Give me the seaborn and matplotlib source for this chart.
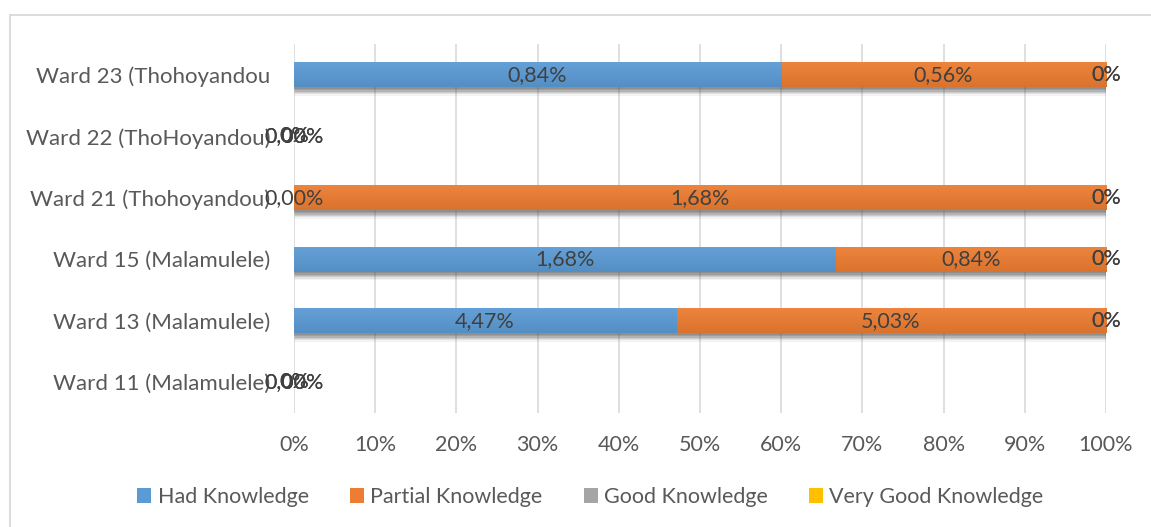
import matplotlib
matplotlib.use("Agg")
import matplotlib.pyplot as plt
import matplotlib.patheffects as pe
from matplotlib.patches import Patch, Rectangle
from matplotlib.colors import to_rgb
import numpy as np
import pandas as pd
import seaborn as sns

# Ward categories (top to bottom) and knowledge shares in percent
wards = [
    "Ward 23 (Thohoyandou",
    "Ward 22 (ThoHoyandou)",
    "Ward 21 (Thohoyandou)",
    "Ward 15 (Malamulele)",
    "Ward 13 (Malamulele)",
    "Ward 11 (Malamulele)",
]
had_knowledge = [0.84, 0.00, 0.00, 1.68, 4.47, 0.00]
partial_knowledge = [0.56, 0.00, 1.68, 0.84, 5.03, 0.00]
good_knowledge = [0, 0, 0, 0, 0, 0]
very_good_knowledge = [0, 0, 0, 0, 0, 0]

series_names = ["Had Knowledge", "Partial Knowledge", "Good Knowledge", "Very Good Knowledge"]
series_values = [had_knowledge, partial_knowledge, good_knowledge, very_good_knowledge]
series_colors = ["#5B9BD5", "#ED7D31", "#A5A5A5", "#FFC000"]
label_formats = ["{:.2f}%", "{:.2f}%", "{:.0f}%", "{:.0f}%"]

TEXT = "#595959"
LABEL = "#404040"
FONT = ["Lato", "DejaVu Sans"]

sns.set_theme(style="white")
plt.rcParams["font.family"] = FONT

vals = np.array(series_values, dtype=float)          # (series, wards)
totals = vals.sum(axis=0)
safe = np.where(totals > 0, totals, 1)
shares = np.where(totals > 0, vals / safe, 0.0)
cum = np.cumsum(shares, axis=0)                       # right edge of each segment
starts = cum - shares

fig = plt.figure(figsize=(11.51, 5.27), dpi=100)
ax = fig.add_axes([0.2554, 0.2163, 0.7055, 0.7002])

# chart area border
fig.patches.append(Rectangle((10 / 1151, -0.05), 1.2, 1 - 15 / 527 + 0.05,
                             transform=fig.transFigure, fill=False,
                             edgecolor="#D9D9D9", linewidth=1.3, zorder=0))


def shade(color, f):
    r, g, b = to_rgb(color)
    if f >= 0:
        return (r + (1 - r) * f, g + (1 - g) * f, b + (1 - b) * f)
    return (r * (1 + f), g * (1 + f), b * (1 + f))


# soft drop shadow built from stacked translucent offsets
soft_shadow = [pe.SimplePatchShadow(offset=(dx, -dy), shadow_rgbFace="#555555", alpha=a)
               for dx, dy, a in [(0, 6, 0.07), (1, 5, 0.10), (0, 4, 0.16),
                                 (1, 3, 0.20), (0, 2, 0.22), (0, 1, 0.2)]] + [pe.Normal()]

n = len(series_names)
# 100% stacked bars: draw cumulative extents from the outermost layer inwards
for i in range(n - 1, -1, -1):
    df = pd.DataFrame({"ward": wards, "share": cum[i]})
    before = len(ax.patches)
    z = 2 + (n - 1 - i) * 0.1
    sns.barplot(data=df, x="share", y="ward", orient="h", color=series_colors[i],
                width=0.41, saturation=1, ax=ax, errorbar=None)
    grad = np.array([shade(series_colors[i], 0.06), shade(series_colors[i], -0.08)])
    grad = np.linspace(grad[0], grad[1], 32)[:, None, :]
    for p in ax.patches[before:]:
        p.set_edgecolor("none")
        p.set_zorder(z)
        if i == n - 1:
            p.set_path_effects(soft_shadow)
        if p.get_width() > 0:
            x0, y0 = p.get_x(), p.get_y()
            im = ax.imshow(grad, extent=(x0, x0 + p.get_width(), y0 + p.get_height(), y0),
                           aspect="auto", interpolation="bilinear", zorder=z + 0.05)
            im.set_clip_path(p)

# data labels centred in each segment
for i in range(n):
    for j in range(len(wards)):
        xc = starts[i, j] + shares[i, j] / 2
        txt = label_formats[i].format(vals[i, j]).replace(".", ",")
        ax.text(xc, j, txt, ha="center", va="center", fontsize=15.5,
                color=LABEL, zorder=5)

ax.set_xlim(0, 1)
ax.set_ylim(len(wards) - 0.5, -0.5)
ax.set_aspect("auto")
ax.set_xticks(np.linspace(0, 1, 11))
ax.set_xticklabels([f"{int(round(t * 100))}%" for t in np.linspace(0, 1, 11)])
ax.grid(axis="x", color="#D9D9D9", linewidth=1.2, zorder=0)
ax.set_axisbelow(True)
ax.set_xlabel("")
ax.set_ylabel("")
for s in ax.spines.values():
    s.set_visible(False)
ax.tick_params(axis="x", length=0, pad=16, labelsize=15.5, labelcolor=TEXT)
ax.tick_params(axis="y", length=0, pad=17, labelsize=16, labelcolor=TEXT)

handles = [Patch(facecolor=c, edgecolor="none") for c in series_colors]
fig.legend(handles, series_names, loc="center", bbox_to_anchor=(0.513, 0.0565),
           ncol=4, frameon=False, fontsize=15.5, labelcolor=TEXT,
           handlelength=0.65, handleheight=0.65, handletextpad=0.3,
           columnspacing=1.9)

fig.savefig("out.png", dpi=100, facecolor="white")
